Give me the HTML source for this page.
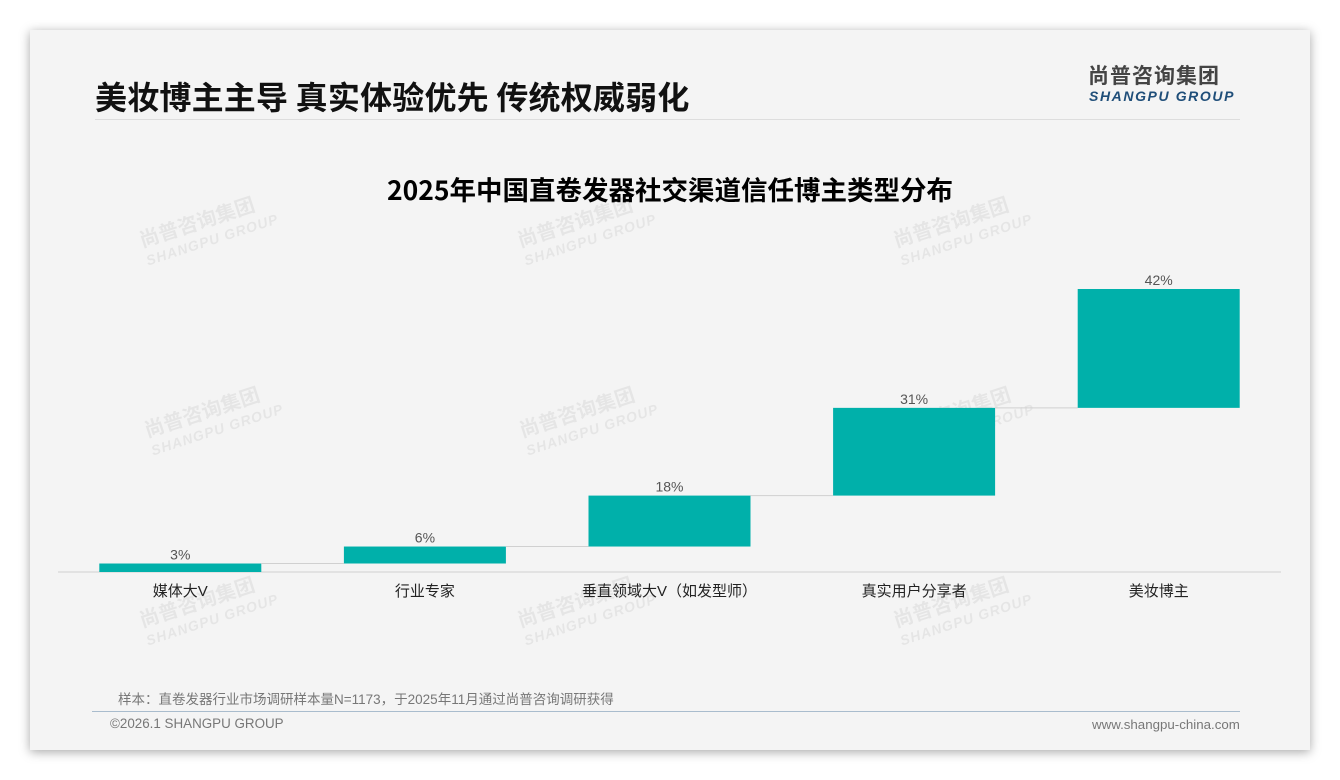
<!DOCTYPE html>
<html><head><meta charset="utf-8">
<style>
body{margin:0;width:1340px;height:780px;background:#fff;font-family:"Liberation Sans","Noto Sans CJK SC",sans-serif;position:relative;overflow:hidden}
#card{position:absolute;left:30px;top:30px;width:1280px;height:720px;background:#f4f4f4;box-shadow:0 2px 10px rgba(0,0,0,0.35)}
.abs{position:absolute;white-space:nowrap}
.wm{position:absolute;color:rgba(0,0,0,0.06);font-weight:bold;transform:rotate(-18deg);font-size:20px;line-height:20px;white-space:nowrap}
.wm span{display:block;font-size:14px;font-style:italic;letter-spacing:1px}
</style></head><body>
<div id="card"></div>
<div class="abs" style="left:95px;top:77px;font-size:32px;font-weight:bold;color:#111;font-family:'Noto Sans CJK SC',sans-serif;line-height:38px;letter-spacing:0.2px">美妆博主主导 真实体验优先 传统权威弱化</div>
<div class="abs" style="left:95px;top:119px;width:1145px;height:1px;background:#ddd"></div>
<div class="abs" style="left:1088px;top:63px;font-size:21px;font-weight:bold;color:#444;font-family:'Noto Sans CJK SC',sans-serif;letter-spacing:1px;line-height:24px">尚普咨询集团</div>
<div class="abs" style="left:1089px;top:88px;font-size:14px;font-weight:bold;font-style:italic;color:#1f4e79;letter-spacing:1.6px;line-height:16px">SHANGPU GROUP</div>
<div class="abs" style="left:0;width:1340px;text-align:center;top:172px;font-size:26.5px;font-weight:bold;color:#000;font-family:'Noto Sans CJK SC',sans-serif;line-height:34px;letter-spacing:0px">2025年中国直卷发器社交渠道信任博主类型分布</div>
<div class="wm" style="left:140px;top:210px">尚普咨询集团<span>SHANGPU GROUP</span></div>
<div class="wm" style="left:518px;top:210px">尚普咨询集团<span>SHANGPU GROUP</span></div>
<div class="wm" style="left:894px;top:210px">尚普咨询集团<span>SHANGPU GROUP</span></div>
<div class="wm" style="left:145px;top:400px">尚普咨询集团<span>SHANGPU GROUP</span></div>
<div class="wm" style="left:520px;top:400px">尚普咨询集团<span>SHANGPU GROUP</span></div>
<div class="wm" style="left:896px;top:400px">尚普咨询集团<span>SHANGPU GROUP</span></div>
<div class="wm" style="left:140px;top:590px">尚普咨询集团<span>SHANGPU GROUP</span></div>
<div class="wm" style="left:518px;top:590px">尚普咨询集团<span>SHANGPU GROUP</span></div>
<div class="wm" style="left:894px;top:590px">尚普咨询集团<span>SHANGPU GROUP</span></div>
<svg class="abs" style="left:0;top:0" width="1340" height="780" id="chart"></svg>
<div class="abs" style="left:118px;top:688px;font-size:13.5px;color:#777">样本：直卷发器行业市场调研样本量N=1173，于2025年11月通过尚普咨询调研获得</div>
<div class="abs" style="left:92px;top:711px;width:1148px;height:1px;background:#a9bccd"></div>
<div class="abs" style="left:110px;top:716px;font-size:13.4px;color:#777">©2026.1 SHANGPU GROUP</div>
<div class="abs" style="left:1092px;top:717px;font-size:13.3px;color:#777">www.shangpu-china.com</div>
<script>
const categories=["媒体大V","行业专家","垂直领域大V（如发型师）","真实用户分享者","美妆博主"];
const values=[3,6,18,31,42];
const valueLabels=["3%","6%","18%","31%","42%"];
const svg=document.getElementById('chart');
const NS='http://www.w3.org/2000/svg';
const x0=58,x1=1281,baseY=572,pxPer=2.83,barW=162;
const band=(x1-x0)/categories.length;
const xc=i=>x0+band*(i+0.5);
const y=v=>baseY-v*pxPer;
function mk(t,a){const e=document.createElementNS(NS,t);for(const k in a)e.setAttribute(k,a[k]);svg.appendChild(e);return e;}
const ax=mk('line',{x1:x0,x2:x1,y1:baseY,y2:baseY,stroke:'#d0d0d0','stroke-width':1});


let cum=0;
categories.forEach((c,i)=>{
 const start=cum,end=cum+values[i];cum=end;
 const r=mk('rect',{x:xc(i)-barW/2,y:y(end),width:barW,height:y(start)-y(end),fill:'#00b0aa'});
 
 
 if(i<categories.length-1){
  const l=mk('line',{x1:xc(i)+barW/2,x2:xc(i+1)-barW/2,y1:y(end),y2:y(end),stroke:'#d0d0d0','stroke-width':1});
  
  
 }
 const t=mk('text',{x:xc(i),y:y(end)-4,'text-anchor':'middle','font-size':14,fill:'#555','font-family':'Liberation Sans, sans-serif'});
 t.textContent=valueLabels[i];
 
 
 const cl=mk('text',{x:xc(i),y:596,'text-anchor':'middle','font-size':15,fill:'#222','font-family':'Liberation Sans, Noto Sans CJK SC, sans-serif'});
 cl.textContent=c;
 
 
});
</script>
</body></html>
